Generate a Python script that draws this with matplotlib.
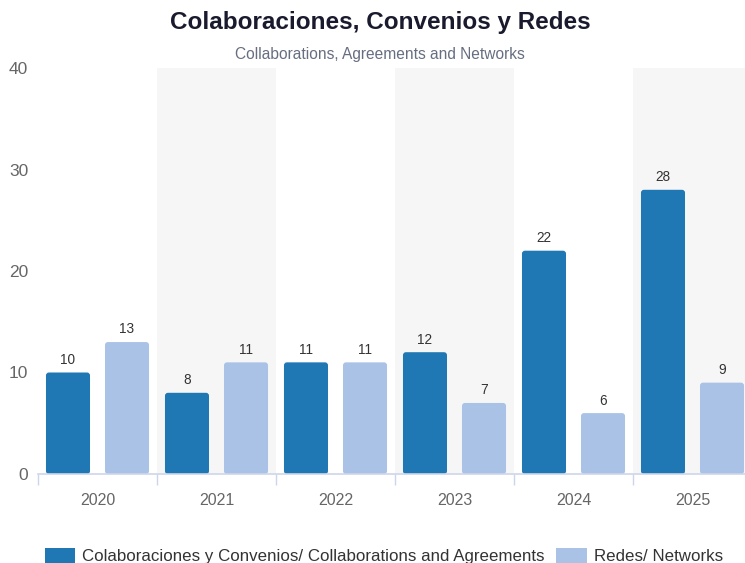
import matplotlib
matplotlib.use("Agg")
import matplotlib.pyplot as plt
from matplotlib.patches import FancyBboxPatch, Patch
import numpy as np

plt.rcParams['font.family'] = ['Liberation Sans', 'DejaVu Sans']

years = ["2020", "2021", "2022", "2023", "2024", "2025"]
colab = [10, 8, 11, 12, 22, 28]
redes = [13, 11, 11, 7, 6, 9]
series_names = ["Colaboraciones y Convenios/ Collaborations and Agreements", "Redes/ Networks"]
colors = ["#1f77b4", "#a9c2e6"]

fig = plt.figure(figsize=(7.45, 5.63), dpi=100)
ax = fig.add_axes([38/745, 1-474/563, 714/745, (474-68)/563])

x = np.arange(len(years))
off = 0.248
w = 0.37
for i in range(len(years)):
    if i % 2 == 1:
        ax.axvspan(i-0.5, i+0.5, color="#f6f6f6", zorder=0, lw=0)

aspect = (40/406) / (6/714)
for vals, dx, c in [(colab, -off, colors[0]), (redes, off, colors[1])]:
    for xi, v in zip(x, vals):
        p = FancyBboxPatch((xi+dx-w/2, 0), w, v,
                           boxstyle="round,pad=0,rounding_size=0.025",
                           mutation_aspect=aspect,
                           fc=c, ec="none", zorder=2)
        ax.add_patch(p)
        ax.text(xi+dx, v+0.55, str(v), ha="center", va="bottom", fontsize=9.8, color="#333333", zorder=3)

ax.set_xlim(-0.5, 5.5)
ax.set_ylim(0, 40)
ax.set_yticks([0, 10, 20, 30, 40])
ax.set_xticks(x)
ax.set_xticklabels(years)
ax.set_xticks(np.arange(-0.5, 6.0, 1), minor=True)
ax.tick_params(axis="x", which="major", length=0, pad=14, labelsize=11.5, labelcolor="#666666")
ax.tick_params(axis="x", which="minor", length=8, color="#ccd6eb", width=1)
ax.tick_params(axis="y", length=0, pad=7, labelsize=12.5, labelcolor="#666666")
for s in ["top", "right", "left"]:
    ax.spines[s].set_visible(False)
ax.spines["bottom"].set_color("#ccd6eb")
ax.spines["bottom"].set_linewidth(1.2)

fig.text(0.51, 1-23/563, "Colaboraciones, Convenios y Redes", ha="center", va="center",
         fontsize=17.5, fontweight="bold", color="#1a1a2e")
fig.text(0.51, 1-55/563, "Collaborations, Agreements and Networks", ha="center", va="center",
         fontsize=11.2, color="#666e80")

handles = [Patch(facecolor=colors[0], label=series_names[0]), Patch(facecolor=colors[1], label=series_names[1])]
fig.legend(handles=handles, loc="center", bbox_to_anchor=(0.515, 1-556/563), ncol=2, frameon=False,
           fontsize=12.2, handlelength=1.8, handleheight=1.1, columnspacing=0.7, handletextpad=0.4,
           labelcolor="#333333")

fig.savefig("out.png", dpi=100)
